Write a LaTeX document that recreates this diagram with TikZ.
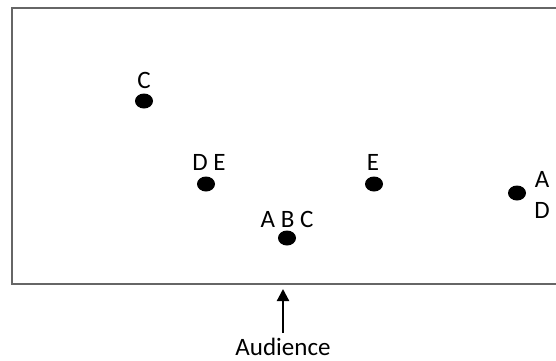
\documentclass[tikz,border=0pt]{standalone}
\usepackage{fontspec}
\setmainfont{Carlito}
\usetikzlibrary{arrows.meta,shapes.geometric}
\begin{document}
\begin{tikzpicture}[x=1pt,y=-1pt,
  dot/.style={ellipse,fill=black,minimum width=18pt,minimum height=15pt,inner sep=0pt},
  lbl/.style={font=\fontsize{25}{27}\selectfont,inner sep=0pt,anchor=base}]
\useasboundingbox (0,0) rectangle (556,360);
\draw[line width=1.4pt,gray!80!black] (570,8) -- (12,8) -- (12,284) -- (570,284);
\node[dot] (c) at (144,101) {};
\node[dot] (de) at (206,184) {};
\node[dot] (abc) at (287,238) {};
\node[dot] (e) at (374,184) {};
\node[dot] (ad) at (517,193) {};
\node[lbl] (lc) at (144,88) {C};
\node[lbl] (lde) at (209,170) {D E};
\node[lbl] (labc) at (287,227) {A B C};
\node[lbl] (le) at (373,170) {E};
\node[lbl] (la) at (542,187) {A};
\node[lbl] (ld) at (542,218) {D};
\node[lbl] (aud) at (283,355) {Audience};
\coordinate (tip) at (283,289);
\draw[line width=2.2pt,-{Stealth[length=12pt,width=12pt,inset=0pt]}] (283,333) -- (tip);
\end{tikzpicture}
\end{document}
